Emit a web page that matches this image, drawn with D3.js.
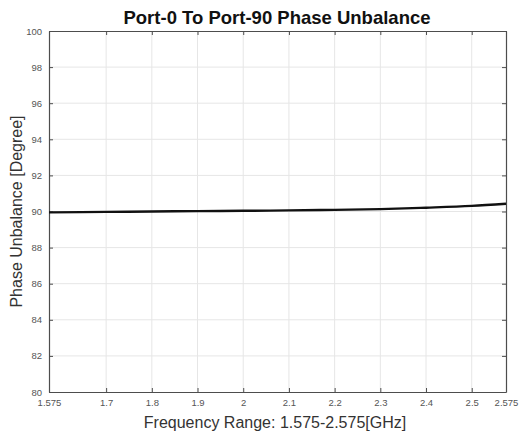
<!DOCTYPE html>
<html><head><meta charset="utf-8">
<script src="https://cdn.jsdelivr.net/npm/d3@7"></script>
<style>body{margin:0;background:#fff;font-family:"Liberation Sans",Arial,sans-serif;}</style>
</head><body><svg id="c" width="519" height="437"></svg>
<script>
const freq = [1.575, 1.7, 1.8, 1.9, 2.0, 2.1, 2.2, 2.3, 2.4, 2.5, 2.575];
const phase = [89.95, 89.98, 90.0, 90.02, 90.04, 90.06, 90.09, 90.13, 90.21, 90.31, 90.43];
const xTicks = [1.575, 1.7, 1.8, 1.9, 2.0, 2.1, 2.2, 2.3, 2.4, 2.5, 2.575];
const xTickLabels = ["1.575", "1.7", "1.8", "1.9", "2", "2.1", "2.2", "2.3", "2.4", "2.5", "2.575"];
const yTicks = [80, 82, 84, 86, 88, 90, 92, 94, 96, 98, 100];

const svg = d3.select("#c");
const L = 49, R = 506, T = 31, B = 392;
const x = d3.scaleLinear().domain([1.575, 2.575]).range([L, R]);
const y = d3.scaleLinear().domain([80, 100]).range([B, T]);

// grid
svg.append("g").selectAll("line").data(xTicks.slice(1, -1)).join("line")
  .attr("x1", d => x(d)).attr("x2", d => x(d)).attr("y1", T).attr("y2", B)
  .attr("stroke", "#e6e6e6").attr("stroke-width", 1);
svg.append("g").selectAll("line").data(yTicks.slice(1, -1)).join("line")
  .attr("y1", d => y(d)).attr("y2", d => y(d)).attr("x1", L).attr("x2", R)
  .attr("stroke", "#e6e6e6").attr("stroke-width", 1);

// axes
const xa = svg.append("g").attr("transform", `translate(0,${B})`)
  .call(d3.axisBottom(x).tickValues(xTicks).tickFormat((d, i) => xTickLabels[i]).tickSizeInner(-4).tickSizeOuter(0).tickPadding(7));
const xt = svg.append("g").attr("transform", `translate(0,${T})`)
  .call(d3.axisTop(x).tickValues(xTicks).tickFormat("").tickSizeInner(-4).tickSizeOuter(0));
const ya = svg.append("g").attr("transform", `translate(${L},0)`)
  .call(d3.axisLeft(y).tickValues(yTicks).tickSizeInner(-4).tickSizeOuter(0).tickPadding(7));
const yr = svg.append("g").attr("transform", `translate(${R},0)`)
  .call(d3.axisRight(y).tickValues(yTicks).tickFormat("").tickSizeInner(-4).tickSizeOuter(0));
[xa, xt, ya, yr].forEach(g => {
  g.select(".domain").attr("stroke", "#4d4d4d").attr("stroke-width", 1.2);
  g.selectAll(".tick line").attr("stroke", "#4d4d4d");
  g.selectAll("text").attr("fill", "#555").attr("font-size", 9.5).attr("font-family", "Liberation Sans, Arial, sans-serif");
});

// line
svg.append("path").datum(freq.map((f, i) => [f, phase[i]]))
  .attr("fill", "none").attr("stroke", "#111").attr("stroke-width", 2.4)
  .attr("d", d3.line().x(d => x(d[0])).y(d => y(d[1])).curve(d3.curveMonotoneX));

// title & labels
svg.append("text").attr("x", 277).attr("y", 24).attr("text-anchor", "middle")
  .attr("font-size", 18.5).attr("font-weight", "bold").attr("fill", "#111")
  .text("Port-0 To Port-90 Phase Unbalance");
svg.append("text").attr("x", 275).attr("y", 428).attr("text-anchor", "middle")
  .attr("font-size", 16).attr("fill", "#333")
  .text("Frequency Range: 1.575-2.575[GHz]");
svg.append("text").attr("transform", `translate(22,${(T + B) / 2}) rotate(-90)`)
  .attr("text-anchor", "middle").attr("font-size", 16).attr("fill", "#333")
  .text("Phase Unbalance [Degree]");
</script></body></html>
